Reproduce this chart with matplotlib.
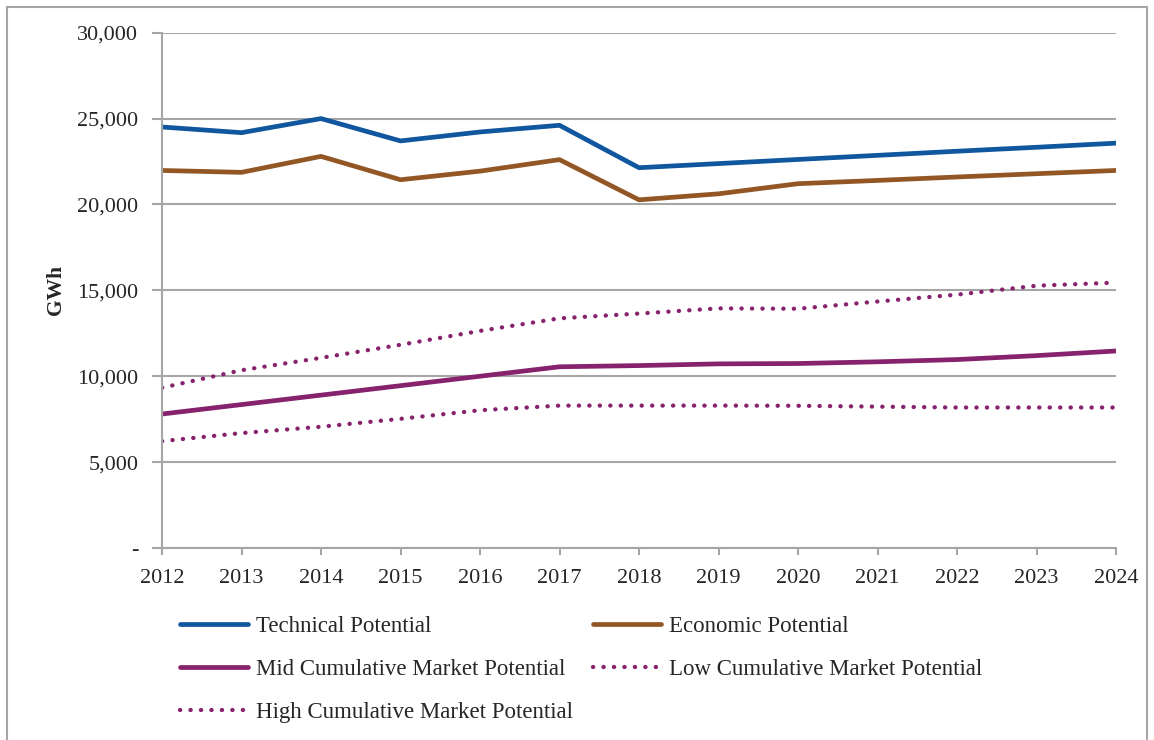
import matplotlib
matplotlib.use("Agg")
import matplotlib.pyplot as plt
from matplotlib.lines import Line2D
from matplotlib.patches import Rectangle
from matplotlib.ticker import FuncFormatter

years = [2012, 2013, 2014, 2015, 2016, 2017, 2018, 2019, 2020, 2021, 2022, 2023, 2024]
technical = [24510, 24180, 25000, 23700, 24220, 24610, 22140, 22380, 22620, 22860, 23100, 23330, 23570]
economic = [21980, 21870, 22800, 21440, 21940, 22610, 20270, 20620, 21210, 21400, 21600, 21790, 21980]
mid_market = [7800, 8350, 8900, 9450, 10000, 10550, 10620, 10720, 10740, 10840, 10970, 11200, 11470]
low_market = [6220, 6690, 7060, 7520, 8020, 8290, 8290, 8290, 8280, 8230, 8180, 8180, 8180]
high_market = [9330, 10350, 11070, 11830, 12640, 13370, 13650, 13950, 13930, 14350, 14750, 15270, 15450]
y_ticks = [0, 5000, 10000, 15000, 20000, 25000, 30000]
labels = ["Technical Potential", "Economic Potential", "Mid Cumulative Market Potential",
          "Low Cumulative Market Potential", "High Cumulative Market Potential"]

BLUE = "#11579F"
BROWN = "#935725"
PURPLE = "#87226C"
GRID = "#A6A6A6"
TXT = "#262626"

plt.rcParams['font.family'] = ['Liberation Serif', 'DejaVu Serif']

fig = plt.figure(figsize=(11.54, 7.4), dpi=100)
ax = fig.add_axes([162/1154, 1-548/740, (1116-162)/1154, (548-32.7)/740])

solid_kw = dict(linewidth=3.4, solid_capstyle='round', solid_joinstyle='round')
dot_kw = dict(linewidth=3.1, linestyle=(0, (0.05, 2.38)), dash_capstyle='round')

l1, = ax.plot(years, technical, color=BLUE, **solid_kw)
l2, = ax.plot(years, economic, color=BROWN, **solid_kw)
l3, = ax.plot(years, mid_market, color=PURPLE, **solid_kw)
l4, = ax.plot(years, low_market, color=PURPLE, **dot_kw)
l5, = ax.plot(years, high_market, color=PURPLE, **dot_kw)

ax.set_xlim(years[0], years[-1])
ax.set_ylim(0, 30000)
ax.set_xticks(years)
ax.set_yticks(y_ticks)
ax.yaxis.set_major_formatter(FuncFormatter(lambda v, p: "-" if v == 0 else f"{int(v):,}"))
ax.grid(axis='y', color=GRID, linewidth=1.5)
ax.set_axisbelow(True)
for s in ['top', 'right']:
    ax.spines[s].set_visible(False)
for s in ['left', 'bottom']:
    ax.spines[s].set_color(GRID)
    ax.spines[s].set_linewidth(1.5)
ax.tick_params(axis='y', length=7, width=1.5, color=GRID, labelsize=16, labelcolor=TXT, pad=10)
ax.tick_params(axis='x', length=5, width=1.5, color=GRID, labelsize=16, labelcolor=TXT, pad=10)
ax.set_ylabel("GWh", fontsize=15.5, fontweight='bold', color=TXT, labelpad=8)

leg_kw = dict(frameon=False, fontsize=16.5, handlelength=2.97, handletextpad=0.36,
              labelspacing=0.97, borderaxespad=0, borderpad=0, labelcolor=TXT)
fig.legend([l1, l3, l5], [labels[0], labels[2], labels[4]], loc='upper left',
           bbox_to_anchor=(180/1154, 1-615.5/740), **leg_kw)
fig.legend([l2, l4], [labels[1], labels[3]], loc='upper left',
           bbox_to_anchor=(593/1154, 1-615.5/740), **leg_kw)

fig.patches.append(Rectangle((7/1154, -0.02), (1147-7)/1154, 1.02-7/740,
                             transform=fig.transFigure, fill=False,
                             edgecolor=GRID, linewidth=1.5))

fig.savefig("out.png", dpi=100)
